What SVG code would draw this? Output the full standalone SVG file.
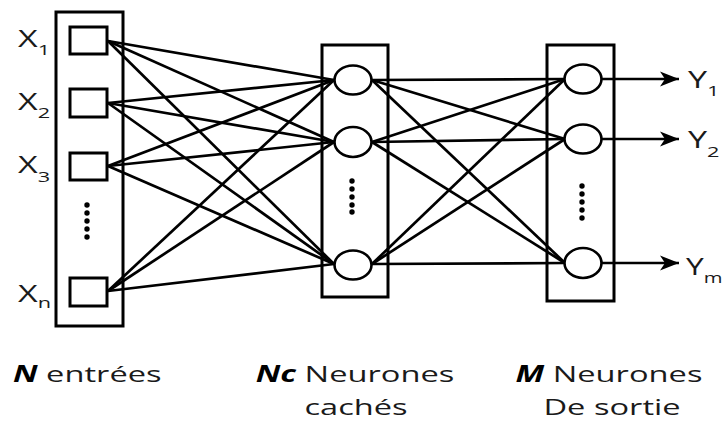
<svg xmlns="http://www.w3.org/2000/svg" width="724" height="424" viewBox="0 0 724 424">
<style>
.box{fill:none;stroke:#000;stroke-width:3}
.sq{fill:#fff;stroke:#000;stroke-width:3}
.nr{fill:#fff;stroke:#000;stroke-width:2.6}
.dot{fill:#000}
.ln{stroke:#000;stroke-width:2.7;fill:none}
.lbl{font-family:"Open Sans","Liberation Sans",sans-serif;font-size:23.5px;fill:#1a1a1a}
.sub{font-size:15px}
.cap{font-family:"Open Sans","Liberation Sans",sans-serif;font-size:22.5px;fill:#1a1a1a}
.bi{font-weight:bold;font-style:italic;fill:#000}
</style>
<defs>
<marker id="arr" markerUnits="userSpaceOnUse" markerWidth="22" markerHeight="18" refX="19" refY="9" orient="auto">
<path d="M0,1.5 L19,9 L0,16.5 L5,9 Z" fill="#000"/>
</marker>
</defs>
<g id="connectors">
<line class="ln" x1="108" y1="41" x2="334" y2="80"/>
<line class="ln" x1="108" y1="41" x2="334" y2="142"/>
<line class="ln" x1="108" y1="41" x2="334" y2="264"/>
<line class="ln" x1="108" y1="103" x2="334" y2="80"/>
<line class="ln" x1="108" y1="103" x2="334" y2="142"/>
<line class="ln" x1="108" y1="103" x2="334" y2="264"/>
<line class="ln" x1="108" y1="166" x2="334" y2="80"/>
<line class="ln" x1="108" y1="166" x2="334" y2="142"/>
<line class="ln" x1="108" y1="166" x2="334" y2="264"/>
<line class="ln" x1="108" y1="291" x2="334" y2="80"/>
<line class="ln" x1="108" y1="291" x2="334" y2="142"/>
<line class="ln" x1="108" y1="291" x2="334" y2="264"/>
<line class="ln" x1="372" y1="80" x2="565" y2="79"/>
<line class="ln" x1="372" y1="80" x2="565" y2="139"/>
<line class="ln" x1="372" y1="80" x2="565" y2="263"/>
<line class="ln" x1="372" y1="142" x2="565" y2="79"/>
<line class="ln" x1="372" y1="142" x2="565" y2="139"/>
<line class="ln" x1="372" y1="142" x2="565" y2="263"/>
<line class="ln" x1="372" y1="264" x2="565" y2="79"/>
<line class="ln" x1="372" y1="264" x2="565" y2="139"/>
<line class="ln" x1="372" y1="264" x2="565" y2="263"/>
<line class="ln" x1="601" y1="79" x2="679" y2="79" marker-end="url(#arr)"/>
<line class="ln" x1="601" y1="139" x2="679" y2="139" marker-end="url(#arr)"/>
<line class="ln" x1="601" y1="263" x2="679" y2="263" marker-end="url(#arr)"/>
</g>
<g id="input-layer">
<rect class="box" x="56" y="12" width="67" height="314"/>
<g id="x1"><rect class="sq" x="70" y="27" width="37" height="27"/></g>
<g id="x2"><rect class="sq" x="70" y="89" width="37" height="28"/></g>
<g id="x3"><rect class="sq" x="70" y="153" width="37" height="27"/></g>
<g id="xn"><rect class="sq" x="70" y="278" width="37" height="28"/></g>
<circle class="dot" cx="87" cy="205" r="2.7"/><circle class="dot" cx="87" cy="213" r="2.7"/><circle class="dot" cx="87" cy="221" r="2.7"/><circle class="dot" cx="87" cy="229" r="2.7"/><circle class="dot" cx="87" cy="237" r="2.7"/>
</g>
<g id="hidden-layer">
<rect class="box" x="322" y="45" width="66" height="252"/>
<g id="h1"><ellipse class="nr" cx="353" cy="80" rx="18.5" ry="14.5"/></g>
<g id="h2"><ellipse class="nr" cx="353" cy="142" rx="18.5" ry="15"/></g>
<g id="h3"><ellipse class="nr" cx="353" cy="265" rx="18.5" ry="14.5"/></g>
<circle class="dot" cx="352" cy="181" r="2.7"/><circle class="dot" cx="352" cy="189" r="2.7"/><circle class="dot" cx="352" cy="197" r="2.7"/><circle class="dot" cx="352" cy="205" r="2.7"/><circle class="dot" cx="352" cy="212" r="2.7"/>
</g>
<g id="output-layer">
<rect class="box" x="547" y="45" width="67" height="256"/>
<g id="o1"><ellipse class="nr" cx="583" cy="79" rx="18.5" ry="14.5"/></g>
<g id="o2"><ellipse class="nr" cx="583" cy="139" rx="18.5" ry="14.5"/></g>
<g id="o3"><ellipse class="nr" cx="583" cy="263" rx="18.5" ry="15"/></g>
<circle class="dot" cx="582" cy="186" r="2.7"/><circle class="dot" cx="582" cy="194" r="2.7"/><circle class="dot" cx="582" cy="202" r="2.7"/><circle class="dot" cx="582" cy="210" r="2.7"/><circle class="dot" cx="582" cy="218" r="2.7"/>
</g>
<g id="labels">
<g transform="translate(18,47) scale(1.45,1)"><text class="lbl">X<tspan class="sub" dy="8">1</tspan></text></g>
<g transform="translate(18,110) scale(1.45,1)"><text class="lbl">X<tspan class="sub" dy="8">2</tspan></text></g>
<g transform="translate(18,173) scale(1.45,1)"><text class="lbl">X<tspan class="sub" dy="9">3</tspan></text></g>
<g transform="translate(18,302) scale(1.45,1)"><text class="lbl">X<tspan class="sub" dy="6">n</tspan></text></g>
<g transform="translate(688,88) scale(1.45,1)"><text class="lbl">Y<tspan class="sub" dy="8">1</tspan></text></g>
<g transform="translate(688,148) scale(1.45,1)"><text class="lbl">Y<tspan class="sub" dy="9">2</tspan></text></g>
<g transform="translate(686,275) scale(1.35,1)"><text class="lbl">Y<tspan class="sub" dy="8" font-size="13px">m</tspan></text></g>
<g transform="translate(13,382) scale(1.45,1)"><text class="cap"><tspan class="bi">N</tspan> entrées</text></g>
<g transform="translate(355,382) scale(1.45,1)"><text class="cap" text-anchor="middle"><tspan class="bi">Nc</tspan> Neurones</text></g>
<g transform="translate(356,415) scale(1.45,1)"><text class="cap" text-anchor="middle">cachés</text></g>
<g transform="translate(609,382) scale(1.45,1)"><text class="cap" text-anchor="middle"><tspan class="bi">M</tspan> Neurones</text></g>
<g transform="translate(612,415) scale(1.45,1)"><text class="cap" text-anchor="middle">De sortie</text></g>
</g>
</svg>
